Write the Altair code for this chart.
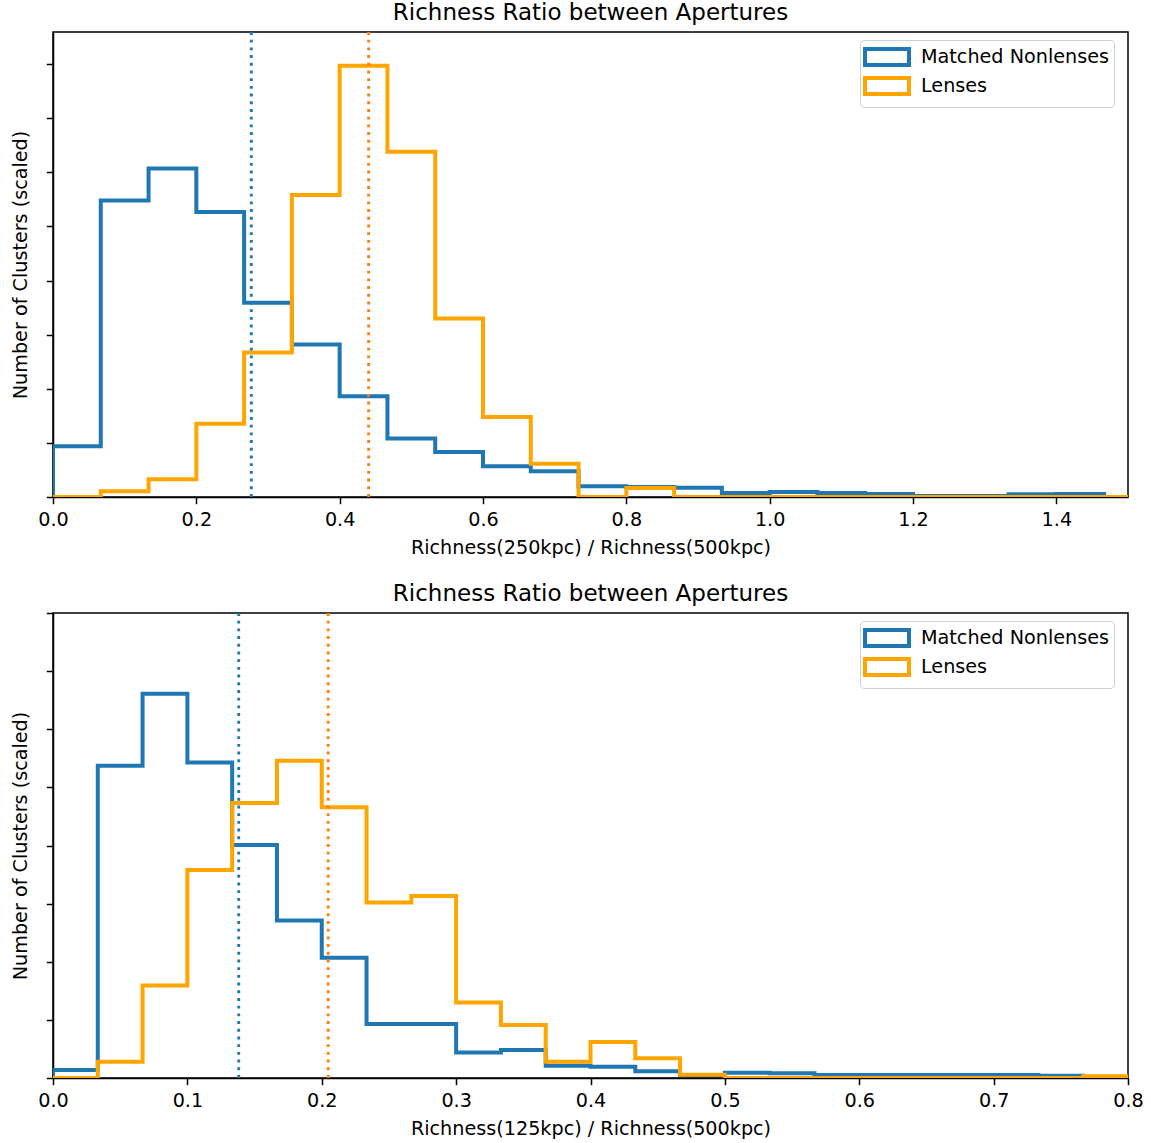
import altair as alt
import pandas as pd

FONT = "DejaVu Sans"
BLUE = "#1f77b4"
ORANGE = "#ffa500"
DOT_BLUE = "#1f77b4"
DOT_ORANGE = "#ff7f0e"
NAMES = ["Matched Nonlenses", "Lenses"]
TITLE = "Richness Ratio between Apertures"
YTITLE = "Number of Clusters (scaled)"

# ---- top panel: Richness(250kpc) / Richness(500kpc), bin width 1/15 ----
top_bin_width = 1 / 15
top_nonlens = [0.94, 5.48, 6.07, 5.27, 3.59, 2.82, 1.86, 1.08, 0.83, 0.57, 0.475,
               0.20, 0.185, 0.17, 0.074, 0.092, 0.074, 0.055, 0.02, 0.02, 0.05,
               0.055, 0.0]
top_lens = [0.0, 0.105, 0.33, 1.355, 2.67, 5.58, 7.97, 6.38, 3.30, 1.48, 0.615,
            0.0, 0.166, 0.0, 0.0, 0.0, 0.0, 0.0, 0.0, 0.0, 0.0, 0.0, 0.0]
top_nonlens_median = 0.2767
top_lens_median = 0.4404
top_xticks = [0.0, 0.2, 0.4, 0.6, 0.8, 1.0, 1.2, 1.4]

# ---- bottom panel: Richness(125kpc) / Richness(500kpc), bin width 1/30 ----
bot_bin_width = 1 / 30
bot_nonlens = [0.137, 5.37, 6.61, 5.43, 4.01, 2.71, 2.07, 0.93, 0.93, 0.44, 0.48,
               0.21, 0.195, 0.115, 0.05, 0.09, 0.08, 0.05, 0.05, 0.05, 0.05, 0.05,
               0.04, 0.0]
bot_lens = [0.0, 0.28, 1.59, 3.58, 4.73, 5.46, 4.66, 3.02, 3.13, 1.30, 0.91, 0.28,
            0.62, 0.34, 0.057, 0.0, 0.0, 0.0, 0.0, 0.0, 0.0, 0.0, 0.0, 0.03]
bot_nonlens_median = 0.1382
bot_lens_median = 0.2048
bot_xticks = [0.0, 0.1, 0.2, 0.3, 0.4, 0.5, 0.6, 0.7, 0.8]


def step_frame(values, bw, name):
    rows = [{"x": 0.0, "y": 0.0, "order": 0, "sample": name}]
    k = 1
    for i, v in enumerate(values):
        rows.append({"x": i * bw, "y": v, "order": k, "sample": name}); k += 1
        rows.append({"x": (i + 1) * bw, "y": v, "order": k, "sample": name}); k += 1
    rows.append({"x": len(values) * bw, "y": 0.0, "order": k, "sample": name})
    return pd.DataFrame(rows)


def panel(nonlens, lens, bw, med_n, med_l, xmax, ymax, xticks, xtitle):
    df_n = step_frame(nonlens, bw, NAMES[0])
    df_l = step_frame(lens, bw, NAMES[1])
    color = alt.Color(
        "sample:N",
        scale=alt.Scale(domain=NAMES, range=[BLUE, ORANGE]),
        legend=alt.Legend(
            title=None, orient="none", legendX=807, legendY=8,
            symbolType="M-2.2,-0.8H2.2V0.8H-2.2Z", symbolSize=400,
            symbolStrokeWidth=4, symbolFillColor="white",
            labelFontSize=19.2, labelFont=FONT, labelColor="black", labelLimit=0,
            padding=5, strokeColor="#d0d0d0", fillColor="white",
            cornerRadius=4, rowPadding=-3, symbolOffset=10, labelOffset=22,
        ),
    )
    x = alt.X("x:Q", scale=alt.Scale(domain=[0, xmax], nice=False, zero=False),
              axis=alt.Axis(values=xticks, format=".1f", title=xtitle, grid=False,
                            labelFlush=False))
    y = alt.Y("y:Q", scale=alt.Scale(domain=[0, ymax], nice=False),
              axis=alt.Axis(values=list(range(9)), labels=False, title=YTITLE, grid=False))
    line_n = alt.Chart(df_n).mark_line(strokeWidth=4, clip=True, strokeJoin="miter").encode(
        x=x, y=y, color=color, order="order:Q")
    line_l = alt.Chart(df_l).mark_line(strokeWidth=4, clip=True, strokeJoin="miter").encode(
        x=x, y=y, color=color, order="order:Q")
    rule_n = alt.Chart(pd.DataFrame({"m": [med_n]})).mark_rule(
        color=DOT_BLUE, strokeWidth=2.9, strokeDash=[2.9, 4.8]).encode(x="m:Q")
    rule_l = alt.Chart(pd.DataFrame({"m": [med_l]})).mark_rule(
        color=DOT_ORANGE, strokeWidth=2.9, strokeDash=[2.9, 4.8]).encode(x="m:Q")
    return alt.layer(line_n, line_l, rule_n, rule_l).properties(
        width=1075, height=465, title=TITLE)


top = panel(top_nonlens, top_lens, top_bin_width, top_nonlens_median, top_lens_median,
            1.5, 8.595, top_xticks, "Richness(250kpc) / Richness(500kpc)")
bot = panel(bot_nonlens, bot_lens, bot_bin_width, bot_nonlens_median, bot_lens_median,
            0.8, 8.0, bot_xticks, "Richness(125kpc) / Richness(500kpc)")

chart = alt.vconcat(top, bot, spacing=22).resolve_scale(color="independent").resolve_legend(
    color="independent"
).properties(
    padding={"left": 10, "top": 0, "right": 0, "bottom": 2},
    background="white",
).configure(font=FONT).configure_view(
    stroke="black", strokeWidth=1.5
).configure_axis(
    domainColor="black", domainWidth=1.5, tickColor="black", tickWidth=1.5,
    tickSize=6.7, labelColor="black", titleColor="black", labelFontSize=19.2,
    titleFontSize=19.2, titleFontWeight="normal", labelFont=FONT, titleFont=FONT,
    labelPadding=7, titlePadding=9,
).configure_axisY(titlePadding=15).configure_title(
    fontSize=23, fontWeight="normal", color="black", font=FONT, offset=6,
)

chart.save("out.html", embed_options={"renderer": "svg", "actions": False})
